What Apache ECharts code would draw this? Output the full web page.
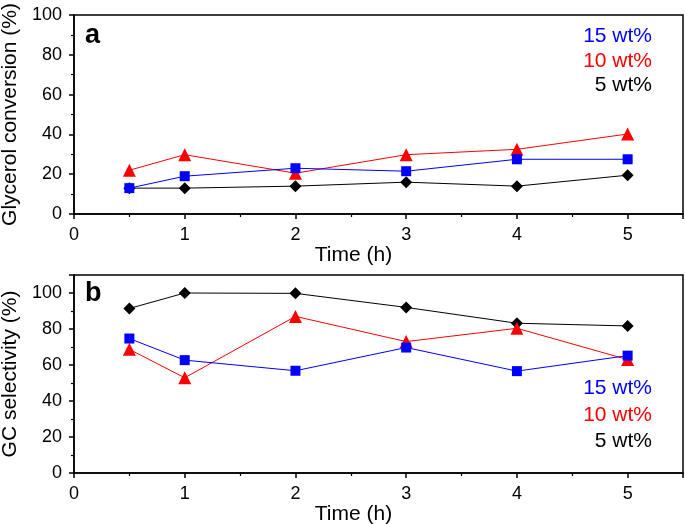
<!DOCTYPE html>
<html>
<head>
<meta charset="utf-8">
<script src="https://cdn.jsdelivr.net/npm/echarts@6/dist/echarts.min.js"></script>
<style>html,body{margin:0;padding:0;background:#fff}#c{width:685px;height:524px}</style>
</head>
<body>
<div id="c"></div>
<script>
const times = [0.5, 1, 2, 3, 4, 5];
const seriesNames = ['15 wt%', '10 wt%', '5 wt%'];
// Panel a: glycerol conversion (%)
const convBlue15 = [13, 19, 23, 21.5, 27.5, 27.5];
const convRed10 = [22, 29.8, 20.5, 29.8, 32.5, 40.2];
const convBlack5 = [13, 13, 14, 16, 14, 19.5];
// Panel b: GC selectivity (%)
const selBlue15 = [74.7, 62.7, 56.8, 69.7, 56.6, 65.2];
const selRed10 = [68.7, 52.9, 87, 73, 80.4, 63];
const selBlack5 = [91.4, 100, 99.8, 92, 83.2, 81.7];
const xTicks = [0, 1, 2, 3, 4, 5];
const yTicksA = [0, 20, 40, 60, 80, 100];
const yTicksB = [0, 20, 40, 60, 80, 100];

const FONT = '"Liberation Sans", Arial, sans-serif';
const pair = (ys) => times.map((t, i) => [t, ys[i]]);

function xAxisFor(gi) {
  return {
    type: 'value', gridIndex: gi, min: 0, max: 5.5, interval: 1,
    name: 'Time (h)', nameLocation: 'middle', nameGap: 28,
    nameTextStyle: { fontFamily: FONT, fontSize: 21, color: '#000', padding: [0, 50, 0, 0] },
    axisLine: { show: true, onZero: false, lineStyle: { color: '#000', width: 1.5 } },
    axisTick: { show: true, inside: false, length: 5, lineStyle: { color: '#000', width: 1.5 } },
    minorTick: { show: true, splitNumber: 2, length: 3, lineStyle: { color: '#000', width: 1.2 } },
    axisLabel: { fontFamily: FONT, fontSize: 18, color: '#000', margin: 12,
      formatter: v => xTicks.includes(v) ? String(v) : '' },
    splitLine: { show: false }
  };
}
function yAxisFor(gi, max, name, ticks) {
  return {
    type: 'value', gridIndex: gi, min: 0, max: max, interval: 20,
    name: name, nameLocation: 'middle', nameGap: 51,
    nameTextStyle: { fontFamily: FONT, fontSize: 21, color: '#000' },
    axisLine: { show: true, onZero: false, lineStyle: { color: '#000', width: 1.5 } },
    axisTick: { show: true, inside: false, length: 5, lineStyle: { color: '#000', width: 1.5 } },
    minorTick: { show: true, splitNumber: 2, length: 3, lineStyle: { color: '#000', width: 1.2 } },
    axisLabel: { fontFamily: FONT, fontSize: 18, color: '#000', margin: 12,
      formatter: v => ticks.includes(v) ? String(v) : '' },
    splitLine: { show: false }
  };
}
function mk(name, data, color, symbol, size, xi, yi) {
  return {
    type: 'line', name: name, xAxisIndex: xi, yAxisIndex: yi, data: data,
    symbol: symbol, symbolSize: size, showSymbol: true,
    lineStyle: { color: color, width: 1 },
    itemStyle: { color: color, borderColor: color, borderWidth: 0 },
    emphasis: { disabled: true }, animation: false
  };
}
const colors = ['#0000ff', '#ff0000', '#000000'];
function legendTexts(yTop, step) {
  return seriesNames.map((n, i) => ({
    type: 'text', right: 33, top: yTop + i * step,
    style: { text: n, fill: colors[i], font: '21px ' + FONT, textAlign: 'right' }
  }));
}

const chart = echarts.init(document.getElementById('c'), null, { renderer: 'canvas' });
chart.setOption({
  animation: false,
  backgroundColor: '#fff',
  grid: [
    { left: 74, right: 2, top: 15, height: 199, containLabel: false, outerBoundsMode: 'none', show: true, borderColor: '#000', borderWidth: 1.5, backgroundColor: 'transparent' },
    { left: 74, right: 2, top: 275, height: 198, containLabel: false, outerBoundsMode: 'none', show: true, borderColor: '#000', borderWidth: 1.5, backgroundColor: 'transparent' }
  ],
  xAxis: [xAxisFor(0), xAxisFor(1)],
  yAxis: [
    yAxisFor(0, 100, 'Glycerol conversion (%)', yTicksA),
    yAxisFor(1, 110, 'GC selectivity (%)', yTicksB)
  ],
  series: [
    mk(seriesNames[2], pair(convBlack5), colors[2], 'diamond', 12, 0, 0),
    mk(seriesNames[1], pair(convRed10), colors[1], 'triangle', 13, 0, 0),
    mk(seriesNames[0], pair(convBlue15), colors[0], 'rect', 10, 0, 0),
    mk(seriesNames[2], pair(selBlack5), colors[2], 'diamond', 12, 1, 1),
    mk(seriesNames[1], pair(selRed10), colors[1], 'triangle', 13, 1, 1),
    mk(seriesNames[0], pair(selBlue15), colors[0], 'rect', 10, 1, 1)
  ],
  graphic: [
    { type: 'text', left: 85, top: 22, style: { text: 'a', fill: '#000', font: 'bold 27px ' + FONT } },
    { type: 'text', left: 85, top: 280, style: { text: 'b', fill: '#000', font: 'bold 27px ' + FONT } },
    ...legendTexts(26, 24.5),
    ...legendTexts(378, 26.5)
  ]
});
</script>
</body>
</html>
